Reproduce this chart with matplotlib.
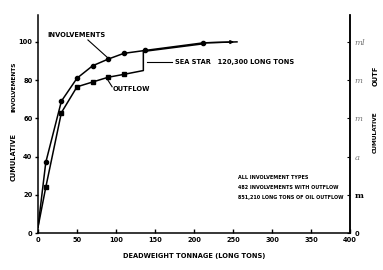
import numpy as np
import matplotlib
matplotlib.use("Agg")
import matplotlib.pyplot as plt

plt.rcParams['font.family'] = ['DejaVu Sans']
plt.rcParams['font.weight'] = 'bold'

# Kumulativ gorbek (leolvasva a kepről)
inv_x = [0, 10, 30, 50, 70, 90, 110, 137, 212, 255]
inv_y = [3, 37, 69, 81, 87.5, 91, 94, 95.5, 99.5, 100]
inv_mark_x = [10, 30, 50, 70, 90, 110, 137, 212]
inv_mark_y = [37, 69, 81, 87.5, 91, 94, 95.5, 99.5]

out_x = [0, 10, 30, 50, 70, 90, 110, 135, 135, 212]
out_y = [3, 24, 63, 76.5, 79, 81.5, 83, 85, 95, 99]
out_mark_x = [10, 30, 50, 70, 90, 110]
out_mark_y = [24, 63, 76.5, 79, 81.5, 83]

x_ticks = [0, 50, 100, 150, 200, 250, 300, 350, 400]
y_ticks = [0, 20, 40, 60, 80, 100]
right_ticks = [20, 40, 60, 80, 100]
right_labels = ['m', 'a', 'm', 'm', 'ml']

block_lines = ['ALL INVOLVEMENT TYPES',
               '482 INVOLVEMENTS WITH OUTFLOW',
               '851,210 LONG TONS OF OIL OUTFLOW']

fs = 4.8
fs_small = 3.5
fig = plt.figure(figsize=(3.83, 2.70), dpi=100)
ax = fig.add_axes([0.0992, 0.137, 0.815, 0.807])
ax.set_xlim(0, 400)
ax.set_ylim(0, 114)

ax.plot(inv_x, inv_y, color='black', lw=1.1)
ax.plot(inv_mark_x, inv_mark_y, 'o', color='black', ms=3)
ax.annotate('', xy=(inv_x[-1], inv_y[-1]), xytext=(inv_x[-2], inv_y[-2]),
            arrowprops=dict(arrowstyle='-|>', color='black', lw=1.0,
                            mutation_scale=5))
ax.plot(out_x, out_y, color='black', lw=1.1)
ax.plot(out_mark_x, out_mark_y, 's', color='black', ms=2.6)

# feliratok
ax.text(11.5, 103.5, 'INVOLVEMENTS', fontsize=fs, fontweight='bold', va='center')
ax.plot([64, 88.5], [101, 92], color='black', lw=0.8)
ax.text(96, 75.5, 'OUTFLOW', fontsize=fs, fontweight='bold', va='center')
ax.plot([88, 95], [81, 76.5], color='black', lw=0.8)
ax.text(176, 89.5, 'SEA STAR   120,300 LONG TONS', fontsize=fs, fontweight='bold', va='center')
ax.plot([140, 172], [89.5, 89.5], color='black', lw=0.8)
ax.plot([135, 138], [95, 95], color='black', lw=0.8)

for k, txt in enumerate(block_lines):
    ax.text(256, 29.3 - 5.25 * k, txt, fontsize=fs_small, fontweight='bold', va='center')

ax.spines['top'].set_visible(False)
for s in ['left', 'bottom', 'right']:
    ax.spines[s].set_linewidth(1.1)
ax.set_xticks(x_ticks)
ax.set_yticks(y_ticks)
ax.tick_params(axis='x', direction='in', length=3, width=1, labelsize=fs, pad=3)
ax.tick_params(axis='y', direction='out', length=2.5, width=1, labelsize=fs, pad=1.5)
ax.set_xlabel('DEADWEIGHT TONNAGE (LONG TONS)', fontsize=fs, fontweight='bold', labelpad=7)

ax2 = ax.twinx()
ax2.set_ylim(0, 114)
ax2.set_yticks([0] + right_ticks)
ax2.set_yticklabels(['0'] + right_labels)
ax2.tick_params(axis='y', direction='in', length=2.5, width=0.8, labelsize=6, pad=3)
for i, lab in enumerate(ax2.get_yticklabels()):
    if i == 0:
        lab.set_fontweight('bold')
        lab.set_fontsize(fs)
    else:
        lab.set_family('DejaVu Serif')
        if i == 1:
            lab.set_fontweight('bold')
            lab.set_color('black')
        else:
            lab.set_fontweight('normal')
            lab.set_color('#777777')
            lab.set_style('italic')
for s in ['top', 'left', 'bottom']:
    ax2.spines[s].set_visible(False)
ax2.spines['right'].set_linewidth(1.1)

# tengelyfeliratok
fig.text(0.036, 0.68, 'INVOLVEMENTS', rotation=90, fontsize=4.2, fontweight='bold', ha='center', va='center')
fig.text(0.036, 0.42, 'CUMULATIVE', rotation=90, fontsize=fs, fontweight='bold', ha='center', va='center')
fig.text(0.98, 0.72, 'OUTF', rotation=90, fontsize=fs, fontweight='bold', ha='center', va='center')
fig.text(0.98, 0.51, 'CUMULATIVE', rotation=90, fontsize=4.2, fontweight='bold', ha='center', va='center')

fig.savefig('out.png', dpi=100)
